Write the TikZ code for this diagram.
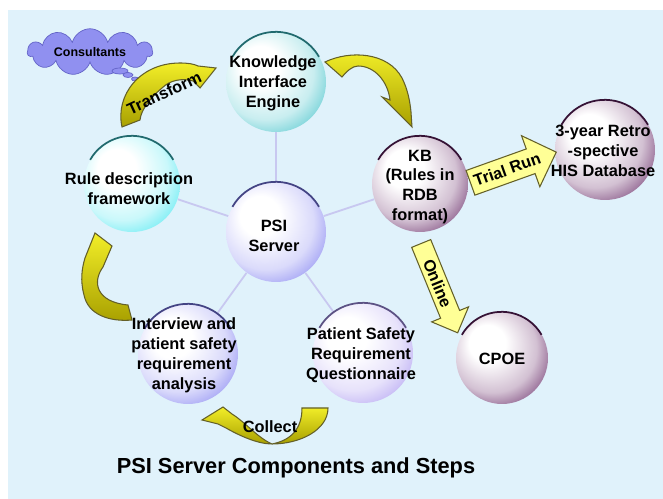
\documentclass[tikz,border=0pt]{standalone}
\usepackage{fontspec}
\setmainfont{Liberation Sans}
\usetikzlibrary{shapes,arrows}
\usetikzlibrary{backgrounds}

\definecolor{bgblue}{RGB}{224,242,251}
\definecolor{spokeblue}{RGB}{200,200,240}
\definecolor{teal1}{RGB}{60,192,200}
\definecolor{cyan1}{RGB}{64,230,240}
\definecolor{peri}{RGB}{124,124,240}
\definecolor{lav}{RGB}{168,150,240}
\definecolor{plum}{RGB}{96,32,96}
\definecolor{arrlight}{RGB}{242,238,40}
\definecolor{arrdark}{RGB}{168,160,0}
\definecolor{arredge}{RGB}{100,96,40}
\definecolor{pale}{RGB}{255,255,150}
\definecolor{cloudfill}{RGB}{144,144,240}
\definecolor{cloudedge}{RGB}{100,100,200}

\colorlet{orbcolor}{teal1}
\pgfdeclareradialshading[orbcolor]{orb}{\pgfpoint{-10bp}{10bp}}{color(0bp)=(white); color(10bp)=(white); color(24bp)=(orbcolor!28!white); color(38bp)=(orbcolor); color(50bp)=(orbcolor)}

\newcommand{\circfont}{\fontsize{9.3}{11.3}\selectfont\bfseries}
\newcommand{\titlefont}{\fontsize{12.4}{14}\selectfont\bfseries}

\begin{document}
\begin{tikzpicture}
  [x=0.02cm,y=-0.02cm,
   every node/.style={font=\circfont,align=center},
   orb/.style={circle,minimum size=2cm,inner sep=0pt,
     /utils/exec={\colorlet{orbcolor}{#1}},shading=orb},
   rim/.style={line width=1pt,draw=#1!55!black}]
  \tikzstyle{curved}=[draw=arredge,line width=0.6pt,top color=arrlight,bottom color=arrdark]
  \tikzstyle{blockarr}=[single arrow,draw=arredge,line width=0.6pt,fill=pale,anchor=tail,inner xsep=2pt,text height=7pt,text depth=0.5pt]
  \tikzstyle{spoke}=[draw=spokeblue,line width=1pt]
  \tikzstyle{bubble}=[ellipse,fill=cloudfill,draw=cloudedge,line width=0.4pt,inner sep=0pt]
  \useasboundingbox (0,0) rectangle (663,499);

  \node[orb=teal1] (know) at (276,82) {};
  \node[orb=cyan1,minimum size=1.92cm] (rule) at (132,184) {};
  \node[orb=peri] (psi) at (276,232) {};
  \node[orb=plum,minimum size=1.92cm] (kb) at (420,184) {};
  \node[orb=plum] (his) at (605,150) {};
  \node[orb=peri] (intv) at (188,354) {};
  \node[orb=lav] (psq) at (363,353) {};
  \node[orb=plum,minimum size=1.84cm] (cpoe) at (502,358) {};

  \draw[rim=teal1] (know.150) arc[start angle=150,end angle=30,radius=1cm];
  \draw[rim=teal1] (rule.150) arc[start angle=150,end angle=30,radius=0.96cm];
  \draw[rim=peri] (psi.150) arc[start angle=150,end angle=30,radius=1cm];
  \draw[rim=plum] (kb.150) arc[start angle=150,end angle=30,radius=0.96cm];
  \draw[rim=plum] (his.150) arc[start angle=150,end angle=30,radius=1cm];
  \draw[rim=peri] (intv.150) arc[start angle=150,end angle=30,radius=1cm];
  \draw[rim=lav] (psq.150) arc[start angle=150,end angle=30,radius=1cm];
  \draw[rim=plum] (cpoe.150) arc[start angle=150,end angle=30,radius=0.92cm];

  \node (knowtxt) at (273,83) {Knowledge\\Interface\\Engine};
  \node (ruletxt) at (129,189) {Rule description\\framework};
  \node (psitxt) at (274,236) {PSI\\Server};
  \node (kbtxt) at (420,187) {KB\\(Rules in\\RDB\\format)};
  \node (histxt) at (603,151) {3-year Retro\\-spective\\HIS Database};
  \node (intvtxt) at (184,355) {Interview and\\patient safety\\requirement\\analysis};
  \node (psqtxt) at (361,355) {Patient Safety\\Requirement\\Questionnaire};
  \node (cpoetxt) at (502,359) {CPOE};

  \begin{pgfonlayer}{background}
    \fill[bgblue] (8,10) rectangle (663,499);
    \draw[spoke] (psi) -- (know);
    \draw[spoke] (psi) -- (rule);
    \draw[spoke] (psi) -- (kb);
    \draw[spoke] (psi) -- (intv);
    \draw[spoke] (psi) -- (psq);
  \end{pgfonlayer}

  \node[cloud,cloud puffs=11,aspect=4,fill=cloudfill,draw=cloudedge,line width=0.4pt,
    minimum width=2.5cm,minimum height=0.6cm,inner sep=0pt,font=\fontsize{7.1}{8}\selectfont\bfseries]
    (cons) at (90,52) {Consultants};
  \node[bubble,minimum width=0.32cm,minimum height=0.12cm] (b1) at (120,71) {};
  \node[bubble,minimum width=0.2cm,minimum height=0.1cm] (b2) at (128,75) {};
  \node[bubble,minimum width=0.14cm,minimum height=0.08cm] (b3) at (135,79) {};

  \draw[curved] (122,127) .. controls (115,95) and (140,63) .. (180,63)
    .. controls (188,63) and (194,64) .. (198,66) -- (216,68) -- (200,88) -- (193,81)
    .. controls (182,78) and (170,80) .. (162,88)
    .. controls (150,98) and (141,110) .. (140,120) -- cycle;
  \node[rotate=25] (transform) at (164,93) {Transform};

  \draw[curved] (325,62) .. controls (350,50) and (388,52) .. (402,78)
    .. controls (408,90) and (410,102) .. (411,112) -- (412,127) -- (382,97) -- (390,100)
    .. controls (388,82) and (375,66) .. (358,66)
    .. controls (352,66) and (346,72) .. (342,77) -- cycle;

  \draw[curved] (132,320) .. controls (110,322) and (88,315) .. (84,295)
    .. controls (80,280) and (82,268) .. (85,258) -- (95,233) -- (112,246) -- (103,267)
    .. controls (92,282) and (96,302) .. (128,305) -- cycle;

  \draw[curved] (302,408) -- (328,408) .. controls (328,430) and (300,444) .. (272,444)
    .. controls (258,444) and (240,436) .. (226,428) -- (218,424) -- (202,420) -- (223,407) -- (232,414)
    .. controls (245,422) and (258,438) .. (272,444)
    .. controls (292,440) and (302,428) .. (302,408) -- cycle;
  \node (collect) at (270,427) {Collect};

  \node[blockarr,rotate=19.7,inner ysep=3.4pt,single arrow head extend=8pt,minimum height=1.66cm]
    (trial) at (470,183) {Trial Run};
  \node[blockarr,rotate=-67.8,inner ysep=1.8pt,single arrow head extend=5.5pt,minimum height=1.93cm]
    (online) at (421,243) {Online};

  \node[font=\titlefont] (title) at (296,468) {PSI Server Components and Steps};
\end{tikzpicture}
\end{document}
